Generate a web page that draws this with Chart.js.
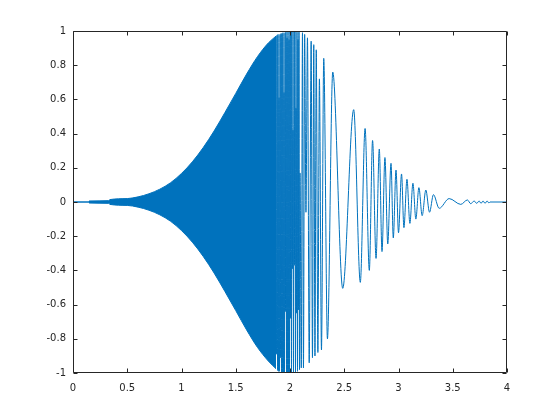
<!DOCTYPE html>
<html>
<head>
<meta charset="utf-8">
<script src="https://cdn.jsdelivr.net/npm/chart.js@4.4.1/dist/chart.umd.min.js"></script>
<style>
  body { margin: 0; background: #fff; }
  canvas { display: block; }
</style>
</head>
<body>
<canvas id="myChart" width="560" height="420"></canvas>
<script>
// envelope of the dense (unresolved) part of the signal
const envT     = [0, 0.14, 0.15, 0.33, 0.34, 0.5, 0.6, 0.7, 0.8, 0.9, 1.0, 1.1, 1.2, 1.3, 1.4, 1.5, 1.6, 1.7, 1.8, 1.871];
const envUpper = [0, 0, 0.006, 0.008, 0.014, 0.02, 0.03, 0.048, 0.075, 0.113, 0.167, 0.235, 0.318, 0.415, 0.523, 0.635, 0.748, 0.85, 0.93, 0.97];
const envLower = [0, 0, -0.006, -0.008, -0.014, -0.02, -0.03, -0.048, -0.075, -0.113, -0.167, -0.235, -0.318, -0.415, -0.523, -0.635, -0.748, -0.85, -0.93, -0.975];

// peaks and troughs from where the samples start to show gaps
const waveT = [1.8713, 1.8759, 1.8805, 1.8851, 1.8897, 1.8943, 1.8989, 1.9034, 1.9080, 1.9126, 1.9172, 1.9218, 1.9264, 1.9310, 1.9356, 1.9402,
               1.9448, 1.9494, 1.9540, 1.9586, 1.9632, 1.9678, 1.9724, 1.9770, 1.9816, 1.9862, 1.9908, 1.9954, 2.0000, 2.0046, 2.0092, 2.0138,
               2.0184, 2.0230, 2.0276, 2.0322, 2.0368, 2.0414, 2.0460, 2.0506, 2.0552, 2.0598, 2.0644, 2.0690, 2.0736, 2.0782, 2.0828, 2.0874,
               2.092, 2.104, 2.115, 2.124, 2.135, 2.147, 2.161, 2.177, 2.195, 2.207, 2.219, 2.230, 2.242, 2.257, 2.271, 2.290, 2.311, 2.345, 2.394, 2.486,
               2.587, 2.648, 2.692, 2.731, 2.761, 2.793, 2.823, 2.848, 2.875, 2.901, 2.931, 2.952, 2.977, 3.000, 3.028, 3.050, 3.078, 3.105, 3.133, 3.160,
               3.188, 3.218, 3.252, 3.286, 3.322, 3.375, 3.467, 3.574, 3.635, 3.666, 3.697, 3.721, 3.743, 3.761, 3.779, 3.798, 3.816, 3.834, 3.843, 4.0];
const waveY = [0.97, -0.89, 0.975, -0.985, 0.98, -0.99, 0.61, -0.99, 0.98, -0.91, 0.985, -0.995, 0.985, -0.995, 0.99, -1.0,
               0.64, -1.0, 0.99, -0.64, 0.995, -1.0, 0.96, -1.0, 0.995, -1.0, 0.95, -1.0, 1.0, -0.68, 1.0, -1.0,
               1.0, -0.39, 0.42, -1.0, 1.0, -0.37, 1.0, -0.995, 0.55, -0.65, 0.995, -0.99, 0.95, -0.63, 0.995, -0.98,
               0.17, -0.97, 0.99, -0.97, 0.98, -0.06, 0.96, -0.94, 0.94, -0.91, 0.92, -0.90, 0.89, -0.88, 0.72, -0.865, 0.84, -0.80, 0.76, -0.505,
               0.54, -0.47, 0.43, -0.40, 0.36, -0.33, 0.31, -0.29, 0.26, -0.245, 0.226, -0.21, 0.187, -0.18, 0.164, -0.15, 0.133, -0.125, 0.11, -0.10,
               0.084, -0.08, 0.07, -0.06, 0.043, -0.037, 0.02, -0.014, 0.012, -0.01, 0.006, -0.008, 0.006, -0.008, 0.006, -0.008, 0.006, -0.006, 0, 0];

const xTicks = [0, 0.5, 1, 1.5, 2, 2.5, 3, 3.5, 4];
const yTicks = [-1, -0.8, -0.6, -0.4, -0.2, 0, 0.2, 0.4, 0.6, 0.8, 1];

const blue = '#0072BD';
const axisColor = '#262626';

// box round the axes with inward ticks, like matlab
const boxPlugin = {
    id: 'box',
    afterDraw(chart) {
        const ctx = chart.ctx;
        const a = chart.chartArea;
        const x = chart.scales.x, y = chart.scales.y;
        const L = Math.round(a.left) + 0.5, R = Math.round(a.right) - 0.5;
        const T = Math.round(a.top) + 0.5, B = Math.round(a.bottom) - 0.5;
        ctx.save();
        ctx.strokeStyle = axisColor;
        ctx.lineWidth = 1;
        ctx.beginPath();
        ctx.rect(L, T, R - L, B - T);
        xTicks.forEach(v => {
            const px = Math.round(x.getPixelForValue(v)) + 0.5;
            ctx.moveTo(px, B); ctx.lineTo(px, B - 4);
            ctx.moveTo(px, T); ctx.lineTo(px, T + 4);
        });
        yTicks.forEach(v => {
            const py = Math.round(y.getPixelForValue(v)) + 0.5;
            ctx.moveTo(L, py); ctx.lineTo(L + 4, py);
            ctx.moveTo(R, py); ctx.lineTo(R - 4, py);
        });
        ctx.stroke();
        ctx.restore();
    }
};

const tickFont = { family: 'DejaVu Sans', size: 10 };

const ctx = document.getElementById('myChart').getContext('2d');
const myChart = new Chart(ctx, {
    type: 'line',
    data: {
        datasets: [{
            data: envT.map((t, i) => ({ x: t, y: envUpper[i] })),
            borderColor: blue,
            backgroundColor: blue,
            borderWidth: 1,
            fill: '+1',
            pointRadius: 0,
            cubicInterpolationMode: 'monotone'
        }, {
            data: envT.map((t, i) => ({ x: t, y: envLower[i] })),
            borderColor: blue,
            borderWidth: 1,
            fill: false,
            pointRadius: 0,
            cubicInterpolationMode: 'monotone'
        }, {
            data: waveT.map((t, i) => ({ x: t, y: waveY[i] })),
            borderColor: blue,
            borderWidth: 1,
            fill: false,
            pointRadius: 0,
            cubicInterpolationMode: 'monotone'
        }]
    },
    options: {
        responsive: false,
        animation: false,
        events: [],
        layout: { padding: { top: 31, right: 53, left: 0, bottom: 0 } },
        plugins: {
            legend: { display: false },
            tooltip: { enabled: false }
        },
        scales: {
            x: {
                type: 'linear',
                min: 0,
                max: 4,
                afterBuildTicks: s => { s.ticks = xTicks.map(v => ({ value: v })); },
                afterFit: s => { s.height = 47; },
                grid: { display: false, drawTicks: false },
                border: { display: false },
                ticks: {
                    padding: 9,
                    color: axisColor,
                    font: tickFont,
                    maxRotation: 0,
                    callback: v => String(v)
                }
            },
            y: {
                type: 'linear',
                min: -1,
                max: 1,
                afterBuildTicks: s => { s.ticks = yTicks.map(v => ({ value: v })); },
                afterFit: s => { s.width = 73; },
                grid: { display: false, drawTicks: false },
                border: { display: false },
                ticks: {
                    padding: 7,
                    color: axisColor,
                    font: tickFont,
                    callback: v => String(Math.round(v * 10) / 10)
                }
            }
        }
    },
    plugins: [boxPlugin]
});
</script>
</body>
</html>
